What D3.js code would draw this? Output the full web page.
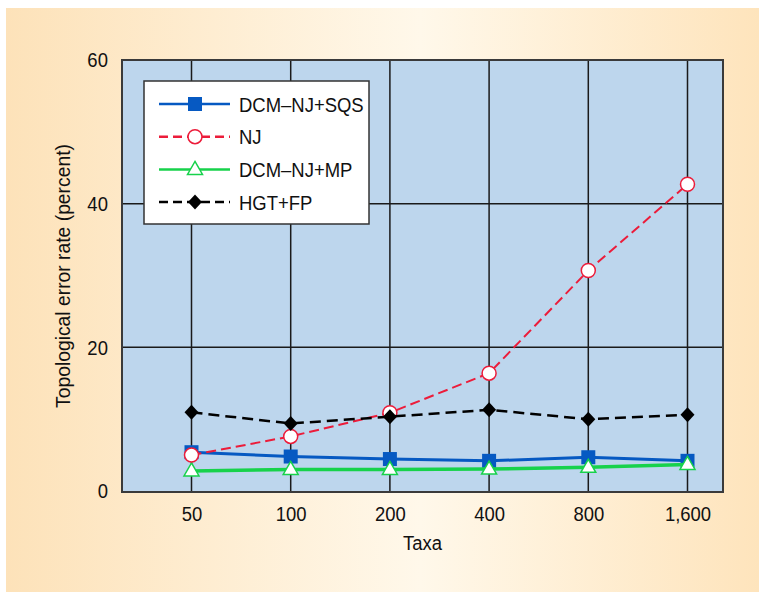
<!DOCTYPE html>
<html>
<head>
<meta charset="utf-8">
<script src="https://cdn.jsdelivr.net/npm/d3@7"></script>
<style>
  body { margin: 0; background: #fff; }
  svg text { font-family: "Liberation Sans", Arial, sans-serif; fill: #111; }
</style>
</head>
<body>
<div id="chart"></div>
<script>
// data
let taxa = ["50", "100", "200", "400", "800", "1,600"];
let sqs = [5.4, 4.8, 4.45, 4.2, 4.7, 4.2];
let nj = [5.0, 7.6, 10.9, 16.4, 30.7, 42.7];
let mp = [2.8, 3.0, 3.0, 3.05, 3.3, 3.7];
let hgt = [10.95, 9.4, 10.35, 11.3, 10.0, 10.6];
let yTicks = [0, 20, 40, 60];

let series = [
  {name: "DCM\u2013NJ+SQS", values: sqs, color: "#0659c2", width: 3, dash: null, marker: "square"},
  {name: "NJ", values: nj, color: "#ec1c3a", width: 2, dash: "10,5", marker: "circle"},
  {name: "DCM\u2013NJ+MP", values: mp, color: "#17d24b", width: 3.5, dash: null, marker: "triangle"},
  {name: "HGT+FP", values: hgt, color: "#000", width: 2.5, dash: "11,6", marker: "diamond"}
];
// which series goes on top of which (as in the original)
let drawOrder = [0, 2, 1, 3];

// the original uses a condensed face, squeeze the text horizontally
let squeeze = "scale(0.88,1)";

let W = 759, H = 593;
let plot = {left: 122, top: 60, right: 723, bottom: 492};

let svg = d3.select("#chart").append("svg")
    .attr("width", W)
    .attr("height", H);

let defs = svg.append("defs");
let grad = defs.append("linearGradient").attr("id", "bg").attr("x1", 0).attr("x2", 1).attr("y1", 0).attr("y2", 0);
grad.append("stop").attr("offset", "0%").attr("stop-color", "#fde2b9");
grad.append("stop").attr("offset", "55%").attr("stop-color", "#fff8ea");
grad.append("stop").attr("offset", "100%").attr("stop-color", "#fee4bc");

svg.append("rect")
    .attr("x", 6).attr("y", 8)
    .attr("width", W - 6).attr("height", H - 9)
    .attr("fill", "url(#bg)");

let xScale = d3.scalePoint()
  .domain(taxa)
  .range([191.5, 687.5]);

let yScale = d3.scaleLinear()
  .domain([0, 60])
  .range([491, 60]);

// plot background
svg.append("rect")
    .attr("x", plot.left).attr("y", plot.top)
    .attr("width", plot.right - plot.left)
    .attr("height", plot.bottom - plot.top)
    .attr("fill", "#bdd6ed");

// grid
svg.append("g").selectAll("line.v")
  .data(taxa)
  .enter().append("line")
    .attr("x1", d => xScale(d)).attr("x2", d => xScale(d))
    .attr("y1", plot.top).attr("y2", plot.bottom)
    .attr("stroke", "#1a1a1a").attr("stroke-width", 1.5);

svg.append("g").selectAll("line.h")
  .data(yTicks.slice(1, -1))
  .enter().append("line")
    .attr("x1", plot.left).attr("x2", plot.right)
    .attr("y1", d => yScale(d)).attr("y2", d => yScale(d))
    .attr("stroke", "#1a1a1a").attr("stroke-width", 1.5);

svg.append("rect")
    .attr("x", plot.left).attr("y", plot.top)
    .attr("width", plot.right - plot.left)
    .attr("height", plot.bottom - plot.top)
    .attr("fill", "none")
    .attr("stroke", "#3a3a3a").attr("stroke-width", 2);

// axes labels
let yAxis = d3.axisLeft(yScale).tickValues(yTicks).tickSize(0).tickPadding(16);
let gy = svg.append("g")
    .attr("transform", `translate(${plot.left}, 0)`)
    .call(yAxis);
gy.select(".domain").remove();
gy.selectAll("text").attr("font-size", 21).attr("transform", squeeze).style("font-family", null);

let xAxis = d3.axisBottom(xScale).tickSize(0).tickPadding(14);
let gx = svg.append("g")
    .attr("transform", `translate(0, ${plot.bottom})`)
    .call(xAxis);
gx.select(".domain").remove();
gx.selectAll("text").attr("font-size", 21).attr("transform", squeeze).style("font-family", null);

svg.append("text")
    .attr("transform", `translate(${(plot.left + plot.right) / 2}, 550) ${squeeze}`)
    .attr("text-anchor", "middle")
    .attr("font-size", 21)
    .text("Taxa");

svg.append("text")
    .attr("transform", `translate(70, ${(plot.top + plot.bottom) / 2}) rotate(-90) scale(0.92,1)`)
    .attr("text-anchor", "middle")
    .attr("font-size", 21)
    .text("Topological error rate (percent)");

// markers
function drawMarker(g, s, x, y) {
  if (s.marker == "square") {
    g.append("rect").attr("x", x - 7).attr("y", y - 7).attr("width", 14).attr("height", 14)
      .attr("fill", s.color);
  } else if (s.marker == "circle") {
    g.append("circle").attr("cx", x).attr("cy", y).attr("r", 7)
      .attr("fill", "#fff").attr("stroke", s.color).attr("stroke-width", 1.5);
  } else if (s.marker == "triangle") {
    g.append("path").attr("d", `M${x},${y - 8}L${x + 7.5},${y + 5}L${x - 7.5},${y + 5}Z`)
      .attr("fill", "#fff").attr("stroke", s.color).attr("stroke-width", 1.5);
  } else {
    g.append("path").attr("d", `M${x},${y - 7.5}L${x + 7},${y}L${x},${y + 7.5}L${x - 7},${y}Z`)
      .attr("fill", s.color);
  }
}

let line = d3.line()
  .x((d, i) => xScale(taxa[i]))
  .y(d => yScale(d));

drawOrder.forEach(k => {
  let s = series[k];
  let g = svg.append("g");
  g.append("path")
    .datum(s.values)
    .attr("fill", "none")
    .attr("stroke", s.color)
    .attr("stroke-width", s.width)
    .attr("stroke-dasharray", s.dash)
    .attr("d", line);
  s.values.forEach((v, i) => drawMarker(g, s, xScale(taxa[i]), yScale(v)));
});

// legend
let lg = svg.append("g").attr("transform", "translate(144, 81)");
lg.append("rect")
    .attr("width", 225).attr("height", 143)
    .attr("fill", "#fff")
    .attr("stroke", "#333").attr("stroke-width", 1.5);

series.forEach((s, i) => {
  let y = 23 + i * 32.7;
  lg.append("line")
    .attr("x1", 15).attr("x2", 86)
    .attr("y1", y).attr("y2", y)
    .attr("stroke", s.color)
    .attr("stroke-width", 2.5)
    .attr("stroke-dasharray", s.dash ? "9,5" : null);
  drawMarker(lg, s, 51, y);
  lg.append("text")
    .attr("transform", `translate(95, ${y + 7.5}) ${squeeze}`)
    .attr("font-size", 21)
    .text(s.name);
});
</script>
</body>
</html>
